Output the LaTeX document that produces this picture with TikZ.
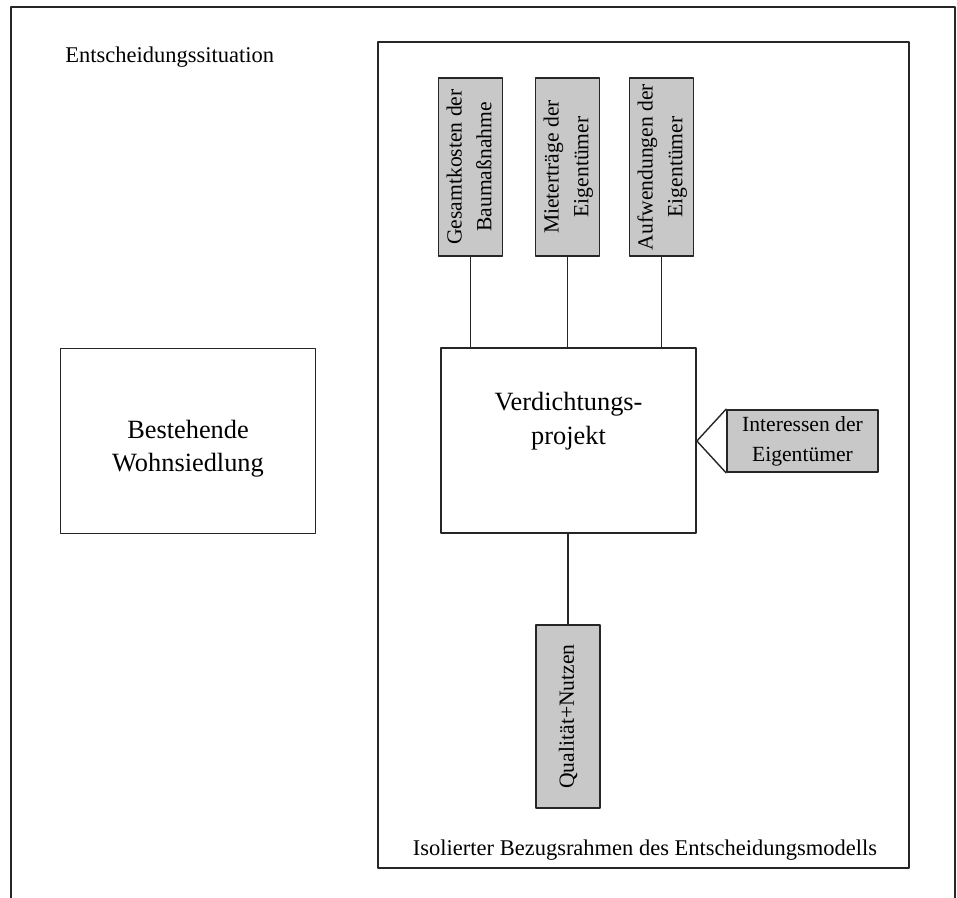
\documentclass[tikz,border=0pt]{standalone}
\usepackage{fontspec}
\setmainfont{Liberation Serif}
\usepackage{tikz}
\usetikzlibrary{positioning}

\newcommand{\hoch}[1]{\rotatebox{90}{\begin{tabular}{@{}c@{}}#1\end{tabular}}}

\tikzset{
    rahmen/.style={line width=0.8pt, draw=black!85},
    block/.style={draw=black!85, line width=1pt, minimum width=5.1cm, minimum height=3.7cm},
    gross/.style={align=center, font=\fontsize{15}{19}\selectfont},
    faktor/.style={draw=black!85, fill=gray!43, line width=1pt, inner sep=0pt,
        minimum width=1.28cm, minimum height=3.56cm, font=\fontsize{12.3}{17}\selectfont},
    link/.style={line width=0.8pt, draw=black!85},
    schrift/.style={font=\fontsize{12.8}{17}\selectfont}
}

\begin{document}
\begin{tikzpicture}[x=0.02cm, y=-0.02cm, line cap=round, line join=round]
    \useasboundingbox (0,0) rectangle (957,898);

    % Outer frame (open at the bottom)
    \draw[rahmen] (11,898) -- (11,7) -- (955,7) -- (955,898);
    \node[schrift, anchor=west, inner sep=0pt] (situation) at (65,57) {Entscheidungssituation};

    % Isolated frame of the model
    \draw[rahmen] (378,42) rectangle (909,868);
    \node[schrift] (bezug) at (645,850) {Isolierter Bezugsrahmen des Entscheidungsmodells};

    % Blocks
    \node[block] (siedlung) at (188,441) {};
    \node[gross] (siedlungtext) at (188,449) {Bestehende\\Wohnsiedlung};
    \node[block] (projekt) at (568.5,440.5) {};
    \node[gross] (projekttext) at (568.5,421) {Verdichtungs-\\projekt};

    % Factors above
    \node[faktor] (kosten) at (470.5,167) {\hoch{Gesamtkosten der\\Baumaßnahme}};
    \node[faktor] (ertraege) at (567.5,167) {\hoch{Mieterträge der\\Eigentümer}};
    \node[faktor] (aufwand) at (661.5,167) {\hoch{Aufwendungen der\\Eigentümer}};

    \foreach \f in {kosten, ertraege, aufwand}{
        \draw[link] (\f.south) -- (\f.south |- projekt.north);
    }

    % Factor below
    \node[faktor, minimum height=3.66cm] (qualitaet) at (568,716.5) {\hoch{Qualität+Nutzen}};
    \draw[link] (qualitaet.north |- projekt.south) -- (qualitaet.north);

    % Interests of the owners
    \node[faktor, minimum width=3.02cm, minimum height=1.24cm, align=center] (interessen) at (802.5,441) {Interessen der\\Eigentümer};
    \draw[link] (interessen.north west) -- (interessen.west -| projekt.east) -- (interessen.south west);

\end{tikzpicture}
\end{document}
